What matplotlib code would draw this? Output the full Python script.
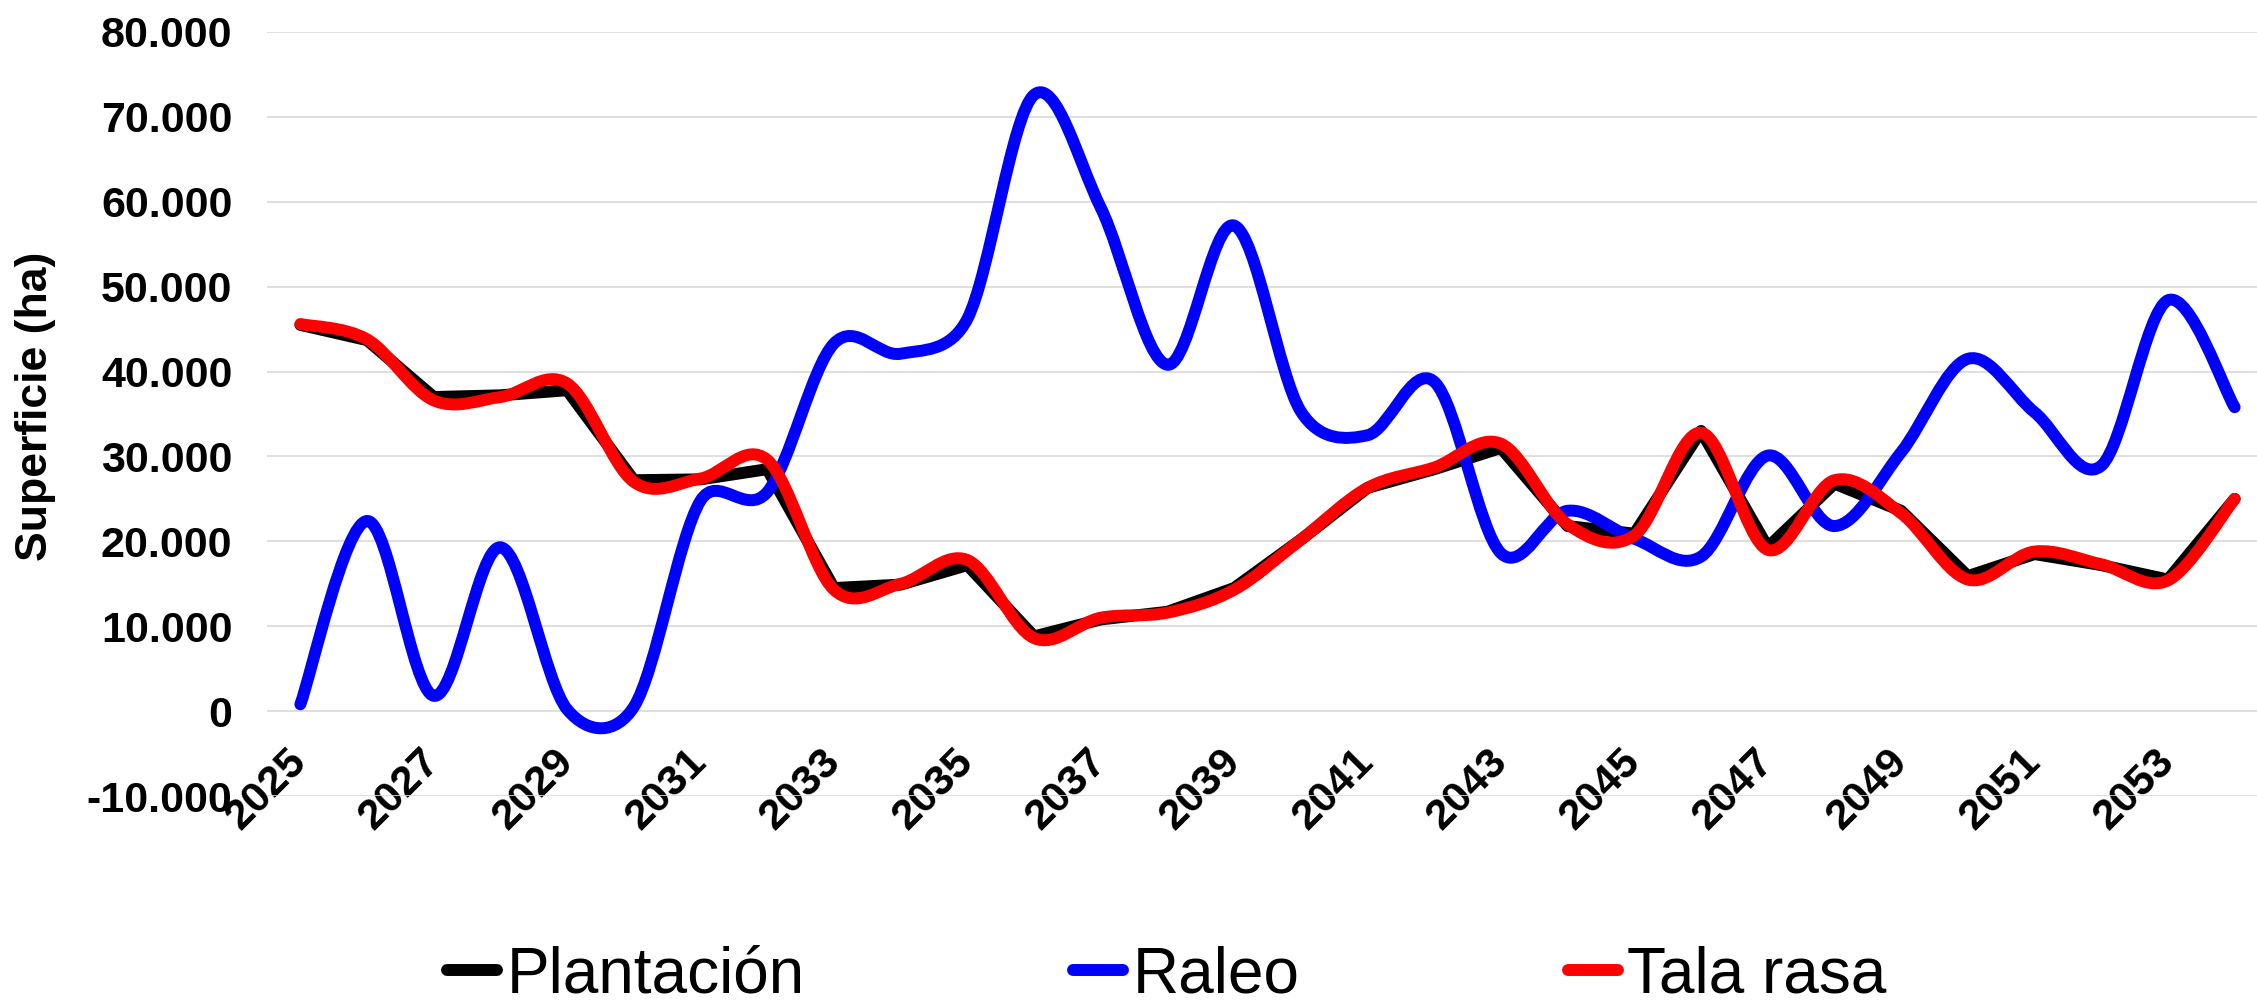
import numpy as np
import matplotlib
matplotlib.use("Agg")
import matplotlib.pyplot as plt
from matplotlib.path import Path
from matplotlib.patches import PathPatch
from matplotlib.lines import Line2D
from matplotlib.ticker import FuncFormatter

# ---------------- data ----------------
years = list(range(2025, 2055))
plantacion = [45500, 43700, 37000, 37200, 37800, 27200, 27300, 28500, 14500, 14900,
              17200, 8800, 10800, 11700, 14500, 20200, 26300, 28500, 31000, 21800,
              20900, 33000, 19300, 26800, 23600, 15900, 18500, 17200, 15500, 25000]
raleo = [800, 22400, 1800, 19300, 200, 500, 24800, 25800, 43300, 42100,
         46200, 72600, 59300, 40800, 57200, 35300, 32500, 38800, 18600, 23600,
         20300, 18200, 30100, 21800, 30500, 41500, 35200, 28900, 48400, 35800]
tala_rasa = [45600, 43800, 36600, 37000, 38600, 27000, 27400, 29600, 14300, 15000,
             17800, 8600, 11000, 11600, 14300, 20200, 26300, 28700, 31500, 22000,
             20700, 32800, 19000, 27200, 23300, 15500, 18800, 17300, 15400, 25000]
series_names = ["Plantación", "Raleo", "Tala rasa"]
y_ticks = list(range(-10000, 80001, 10000))
y_label = "Superficie (ha)"

plt.rcParams["font.family"] = ["Liberation Sans", "DejaVu Sans"]

W, H = 2257, 1006
fig = plt.figure(figsize=(W / 100, H / 100), dpi=100)
ax = fig.add_axes([267 / W, 210 / H, 2001 / W, 764 / H])

x = np.arange(len(years))
ax.set_xlim(-0.5, len(years) - 0.5)
ax.set_ylim(-10000, 80000)

LW = 8.6


def excel_smooth_path(ax, xs, ys):
    pts = ax.transData.transform(np.column_stack([xs, ys]))
    n = len(pts)
    verts = [pts[0]]
    codes = [Path.MOVETO]
    f = 1.0 / 6.0
    for i in range(n - 1):
        p0 = pts[i - 1] if i > 0 else pts[i]
        p1 = pts[i]
        p2 = pts[i + 1]
        p3 = pts[i + 2] if i + 2 < n else pts[i + 1]
        d12 = np.hypot(*(p2 - p1))
        d02 = np.hypot(*(p2 - p0))
        d13 = np.hypot(*(p3 - p1))
        f1 = f
        f2 = f
        if d02 > 0 and d02 * f > d12 / 2:
            f1 = d12 / 2 / d02
        if d13 > 0 and d13 * f > d12 / 2:
            f2 = d12 / 2 / d13
        c1 = p1 + (p2 - p0) * f1
        c2 = p2 - (p3 - p1) * f2
        verts += [c1, c2, p2]
        codes += [Path.CURVE4] * 3
    verts = ax.transData.inverted().transform(np.array(verts))
    return Path(verts, codes)


# gridlines
ax.set_yticks(y_ticks)
ax.yaxis.grid(True, color="#d9d9d9", linewidth=1.2, zorder=0)
ax.set_axisbelow(True)

# Plantación: straight segments
ax.plot(x, plantacion, color="black", lw=LW, solid_joinstyle="round",
        solid_capstyle="round", zorder=2)
# Raleo and Tala rasa: smoothed
for vals, col, z in [(raleo, "#0000ff", 3), (tala_rasa, "#ff0000", 4)]:
    p = excel_smooth_path(ax, x, vals)
    ax.add_patch(PathPatch(p, facecolor="none", edgecolor=col, lw=LW,
                           capstyle="round", joinstyle="round", zorder=z))

# axes styling
for s in ax.spines.values():
    s.set_visible(False)
ax.spines["bottom"].set_position(("data", 0))

ax.yaxis.set_major_formatter(FuncFormatter(lambda v, p: f"{v:,.0f}".replace(",", ".")))
ax.tick_params(axis="y", length=0, labelsize=31, pad=25)
for lab in ax.get_yticklabels():
    lab.set_fontweight("bold")

ax.set_xticks(x[::2])
ax.set_xticklabels([str(y) for y in years[::2]], rotation=45, ha="right",
                   va="center", rotation_mode="anchor", fontsize=31,
                   fontweight="bold")
ax.tick_params(axis="x", length=0, pad=32)

fig.text(36 / W, 1 - 406 / H, y_label, rotation=90, ha="center", va="center",
         fontsize=32, fontweight="bold")

handles = [Line2D([], [], color=c, lw=LW, solid_capstyle="round")
           for c in ["black", "#0000ff", "#ff0000"]]
fig.legend(handles, series_names, loc="center", bbox_to_anchor=(0.517, 0.030),
           ncol=3, frameon=False, fontsize=46, handlelength=0.78,
           handletextpad=0.15, columnspacing=4.2, borderaxespad=0, borderpad=0)

fig.savefig("out.png", dpi=100, facecolor="white")
